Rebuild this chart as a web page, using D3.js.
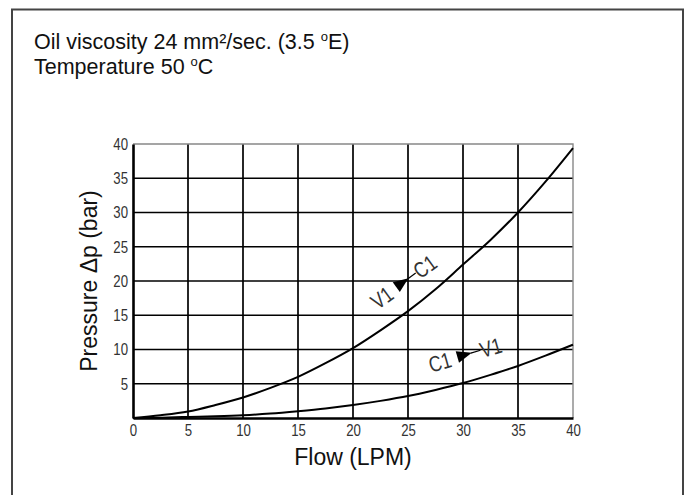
<!DOCTYPE html>
<html>
<head>
<meta charset="utf-8">
<script src="https://cdn.jsdelivr.net/npm/d3@7"></script>
<style>
  body { margin: 0; background: #fff; }
  svg { display: block; }
</style>
</head>
<body>
<div id="chart"></div>
<script>
const width = 688;
const height = 495;

// flow in LPM, pressure drop in bar
const flow = [0, 2.5, 5, 7.5, 10, 12.5, 15, 17.5, 20, 22.5, 25, 27.5, 30, 32.5, 35, 37.5, 40];
const pressureV1C1 = [0, 0.4, 0.95, 1.9, 3.0, 4.4, 6.0, 8.0, 10.2, 12.8, 15.6, 18.8, 22.4, 26.0, 30.0, 34.5, 39.4];
const pressureC1V1 = [0, 0.05, 0.15, 0.25, 0.4, 0.65, 1.0, 1.4, 1.9, 2.5, 3.2, 4.1, 5.1, 6.3, 7.6, 9.1, 10.7];

const xTicks = [0, 5, 10, 15, 20, 25, 30, 35, 40];
const yTicks = [5, 10, 15, 20, 25, 30, 35, 40];

// direction labels: where they sit on the chart (flow, pressure) and their tilt
const arrowLabels = [
  { from: "V1", to: "C1", flow: 24.45, pressure: 19.7, angle: -36 },
  { from: "C1", to: "V1", flow: 30.1, pressure: 9.2, angle: -16 }
];

const svg = d3.select("#chart")
  .append("svg")
  .attr("width", width)
  .attr("height", height);

// outer frame (runs off the bottom of the picture)
svg.append("rect")
  .attr("x", 12)
  .attr("y", 9.5)
  .attr("width", 671)
  .attr("height", 520)
  .attr("fill", "none")
  .attr("stroke", "#444")
  .attr("stroke-width", 2);

// heading, two lines with a small raised "o" for degrees
const headFont = "'Liberation Sans', Arial, sans-serif";
function heading(yPos, before, after) {
  const t = svg.append("text")
    .attr("x", 34)
    .attr("y", yPos)
    .style("font-family", headFont)
    .style("font-size", "21.5px")
    .attr("fill", "#111");
  t.append("tspan").text(before);
  t.append("tspan").attr("font-size", "13px").attr("dy", -8).text("o");
  t.append("tspan").attr("dy", 8).text(after);
}
heading(49, "Oil viscosity 24 mm²/sec. (3.5 ", "E)");
heading(74, "Temperature 50 ", "C");

const x = d3.scaleLinear().domain([0, 40]).range([133, 573]);
const y = d3.scaleLinear().domain([0, 40]).range([418, 144]);

// no narrow font installed, so squeeze the regular one
const squeeze = 0.8;

// grid
svg.append("g")
  .selectAll("line")
  .data(xTicks.filter(d => d > 0 && d < 40))
  .join("line")
  .attr("x1", d => x(d)).attr("x2", d => x(d))
  .attr("y1", y(0)).attr("y2", y(40))
  .attr("stroke", "#000")
  .attr("stroke-width", 1.7);

svg.append("g")
  .selectAll("line")
  .data(yTicks.filter(d => d < 40))
  .join("line")
  .attr("x1", x(0)).attr("x2", x(40))
  .attr("y1", d => y(d)).attr("y2", d => y(d))
  .attr("stroke", "#000")
  .attr("stroke-width", 1.7);

// top and right edges are lighter
svg.append("path")
  .attr("d", `M${x(0)},${y(40)}H${x(40)}V${y(0)}`)
  .attr("fill", "none")
  .attr("stroke", "#888")
  .attr("stroke-width", 1.4);

// axes
const xAxis = svg.append("g")
  .attr("transform", `translate(0,${y(0)})`)
  .call(d3.axisBottom(x).tickValues(xTicks).tickSize(0).tickPadding(6));
const yAxis = svg.append("g")
  .attr("transform", `translate(${x(0)},0)`)
  .call(d3.axisLeft(y).tickValues(yTicks).tickSize(0).tickPadding(5));

[xAxis, yAxis].forEach(g => {
  g.select(".domain").attr("stroke", "#000").attr("stroke-width", 2.6);
  g.selectAll("text")
    .attr("fill", "#333")
    .style("font-family", headFont)
    .style("font-size", "16.5px");
});
xAxis.selectAll("text").attr("transform", `scale(${squeeze},1)`);
yAxis.selectAll("text")
  .attr("x", -5 / squeeze)
  .attr("transform", `scale(${squeeze},1)`);

// curves
const line = d3.line()
  .x(d => x(d[0]))
  .y(d => y(d[1]))
  .curve(d3.curveMonotoneX);

[pressureV1C1, pressureC1V1].forEach(series => {
  svg.append("path")
    .datum(flow.map((f, i) => [f, series[i]]))
    .attr("d", line)
    .attr("fill", "none")
    .attr("stroke", "#000")
    .attr("stroke-width", 2);
});

// flow direction labels
const lab = svg.append("g")
  .selectAll("g")
  .data(arrowLabels)
  .join("g")
  .attr("transform", d => `translate(${x(d.flow)},${y(d.pressure)}) rotate(${d.angle})`);

lab.append("text")
  .attr("transform", `scale(${squeeze},1)`)
  .attr("x", -14 / squeeze)
  .attr("dy", "0.36em")
  .attr("text-anchor", "end")
  .attr("fill", "#333")
  .style("font-family", headFont)
  .style("font-size", "22px")
  .text(d => d.from);

lab.append("path")
  .attr("d", "M-7,-6L8,0L-7,6Z")
  .attr("fill", "#000");

lab.append("line")
  .attr("x1", 7).attr("x2", 17)
  .attr("y1", 0).attr("y2", 0)
  .attr("stroke", "#000")
  .attr("stroke-width", 1.2);

lab.append("text")
  .attr("transform", `scale(${squeeze},1)`)
  .attr("x", 17 / squeeze)
  .attr("dy", "0.36em")
  .attr("fill", "#333")
  .style("font-family", headFont)
  .style("font-size", "22px")
  .text(d => d.to);

// axis titles
svg.append("text")
  .attr("x", (x(0) + x(40)) / 2)
  .attr("y", 465)
  .attr("text-anchor", "middle")
  .attr("fill", "#111")
  .style("font-family", headFont)
  .style("font-size", "23px")
  .text("Flow (LPM)");

svg.append("text")
  .attr("transform", `translate(97,${(y(0) + y(40)) / 2}) rotate(-90)`)
  .attr("text-anchor", "middle")
  .attr("fill", "#111")
  .style("font-family", headFont)
  .style("font-size", "23px")
  .text("Pressure Δp (bar)");
</script>
</body>
</html>
